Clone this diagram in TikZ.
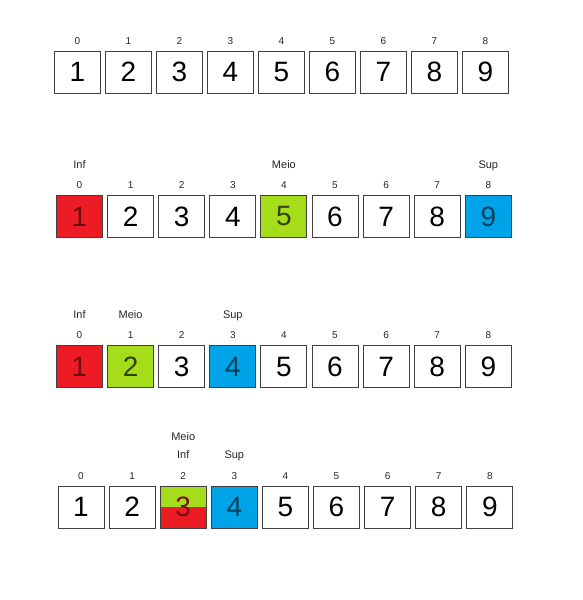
\documentclass[tikz,border=0pt]{standalone}
\usepackage{fontspec}
\setmainfont{Liberation Sans}
\definecolor{cred}{RGB}{237,28,36}
\definecolor{cgreen}{RGB}{166,221,26}
\definecolor{cblue}{RGB}{0,162,232}
\definecolor{cborder}{RGB}{64,64,64}
\begin{document}
\begin{tikzpicture}[x=1pt,y=-1pt,
  cell/.style={draw=cborder,line width=1pt,minimum width=46pt,minimum height=42pt,inner sep=0pt,font=\fontsize{28}{30}\selectfont,fill=white},
  idx/.style={inner sep=0pt,font=\fontsize{10}{12}\selectfont,text=black!85},
  lbl/.style={inner sep=0pt,text height=8pt,text depth=2pt,font=\fontsize{11}{13}\selectfont,text=black!85},
  redc/.style={fill=cred,text=cred!45!black},
  greenc/.style={fill=cgreen,text=cgreen!30!black},
  bluec/.style={fill=cblue,text=cblue!40!black}]
\useasboundingbox (0,0) rectangle (583,600);
% row 1
\foreach \i [evaluate=\i as \n using int(\i+1)] in {0,...,8}{
  \node[cell] (a\i) at ({77.5+51*\i},72) {\n};
  \node[idx] (ai\i) at ({77.5+51*\i},41) {\i};
}
% row 2
\foreach \i [evaluate=\i as \n using int(\i+1)] in {0,...,8}{
  \node[cell] (b\i) at ({79.5+51.1*\i},216.5) {\n};
  \node[idx] (bi\i) at ({79.5+51.1*\i},185) {\i};
}
\node[cell,redc] (b0c) at (b0) {1};
\node[cell,greenc] (b4c) at (b4) {5};
\node[cell,bluec] (b8c) at (b8) {9};
% row 3
\foreach \i [evaluate=\i as \n using int(\i+1)] in {0,...,8}{
  \node[cell] (c\i) at ({79.5+51.1*\i},366.5) {\n};
  \node[idx] (ci\i) at ({79.5+51.1*\i},335) {\i};
}
\node[cell,redc] (c0c) at (c0) {1};
\node[cell,greenc] (c1c) at (c1) {2};
\node[cell,bluec] (c3c) at (c3) {4};
% row 4
\foreach \i [evaluate=\i as \n using int(\i+1)] in {0,...,8}{
  \node[cell] (d\i) at ({81+51.1*\i},507) {\n};
  \node[idx] (di\i) at ({81+51.1*\i},476) {\i};
}
\node[cell,bluec] (d3c) at (d3) {4};
\fill[cred] ([shift={(0.5pt,0.5pt)}]d2.south west) rectangle (d2.east);
\fill[cgreen] ([shift={(0.5pt,-0.5pt)}]d2.north west) rectangle (d2.east);
\draw[cborder,line width=1pt] ([shift={(0.5pt,0.5pt)}]d2.south west) rectangle ([shift={(-0.5pt,-0.5pt)}]d2.north east);
\node[inner sep=0pt,font=\fontsize{28}{30}\selectfont,text=black!50!cred] (d2t) at (d2) {3};
% labels
\node[lbl] (l1) at (79.5,165) {Inf};
\node[lbl] (l2) at ({79.5+51.1*4},165) {Meio};
\node[lbl] (l3) at ({79.5+51.1*8},165) {Sup};
\node[lbl] (l4) at (79.5,315) {Inf};
\node[lbl] (l5) at ({79.5+51.1},315) {Meio};
\node[lbl] (l6) at ({79.5+51.1*3},315) {Sup};
\node[lbl] (l7) at ({81+51.1*2},437) {Meio};
\node[lbl] (l8) at ({81+51.1*2},455) {Inf};
\node[lbl] (l9) at ({81+51.1*3},455) {Sup};
\end{tikzpicture}
\end{document}
